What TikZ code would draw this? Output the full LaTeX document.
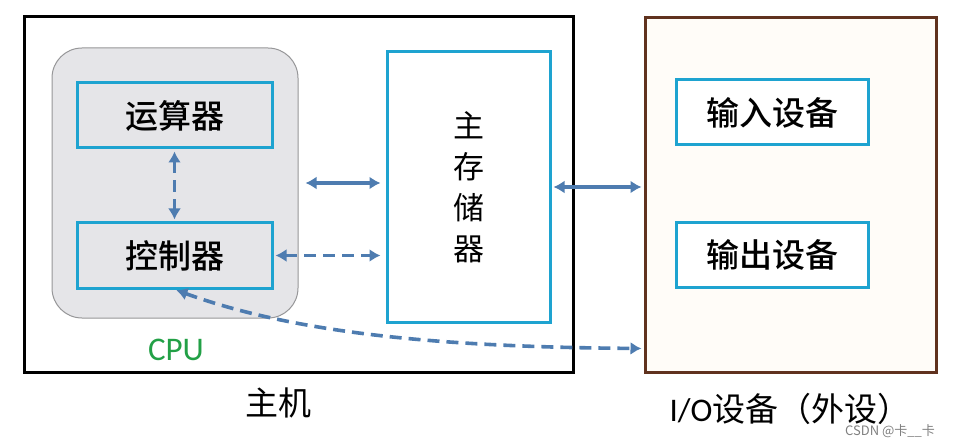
\documentclass[tikz,border=0pt]{standalone}
\usepackage{fontspec}
\setmainfont{Noto Sans CJK SC}
\newfontfamily\medfont{Noto Sans CJK SC Medium}
\newfontfamily\latinfont{Carlito}
\usetikzlibrary{arrows.meta}
\definecolor{boxcyan}{RGB}{30,163,208}
\definecolor{cpugray}{RGB}{229,229,232}
\definecolor{cpuedge}{RGB}{150,150,152}
\definecolor{iobrown}{RGB}{96,50,30}
\definecolor{iocream}{RGB}{255,252,248}
\definecolor{linkblue}{RGB}{78,124,176}
\definecolor{cpugreen}{RGB}{34,160,70}

\begin{document}
\begin{tikzpicture}
[x=1pt,y=-1pt]
\tikzset{unit/.style={draw=boxcyan,line width=3pt,fill=cpugray,inner sep=0pt,
    minimum width=195pt,minimum height=65pt,font=\medfont\fontsize{33}{36}\selectfont},
  link/.style={draw=linkblue,line width=3.6pt,>={Latex[length=11pt,width=13pt]},<->},
  dashlink/.style={link,dash pattern=on 12pt off 7pt}}
\useasboundingbox (0,0) rectangle (957,446);

\node [draw=black,line width=3pt,minimum width=549pt,minimum height=355pt] (host) at (298.5,194.5) {};
\node [draw=cpuedge,line width=1pt,fill=cpugray,rounded corners=30pt,
  minimum width=246pt,minimum height=270pt] (cpu) at (175,183) {};
\node [unit] (alu) at (174.5,115.5) {运算器};
\node [unit] (ctrl) at (174.5,255.5) {控制器};
\node [text=cpugreen,font=\latinfont\fontsize{33}{33}\selectfont] (cpulabel) at (176,350) {CPU};
\node [draw=boxcyan,line width=3pt,fill=white,minimum width=163pt,minimum height=270pt,
  align=center,font=\fontsize{31}{41}\selectfont] (mem) at (468.5,187) {主\\存\\储\\器};
\node [font=\fontsize{33}{36}\selectfont] (hostlabel) at (278,403) {主机};

\node [draw=iobrown,line width=3pt,fill=iocream,minimum width=291pt,minimum height=354pt] (io) at (790.5,195) {};
\node [unit,fill=white,minimum width=192pt] (input) at (772,112.5) {输入设备};
\node [unit,fill=white,minimum width=192pt] (output) at (772,255) {输出设备};
\node [font=\fontsize{33}{36}\selectfont] (iolabel) at (790,409) {{\latinfont I/O}设备（外设）};
\node [text=gray,font=\fontsize{13}{13}\selectfont] (mark) at (890,431) {CSDN @卡\_\_卡};

\coordinate (ioport) at ([yshift=25pt]io.south west);

\draw [dashlink,shorten <=2pt,shorten >=2pt] (alu) -- (ctrl);
\draw [link,shorten <=7pt,shorten >=5pt] (cpu.east) -- (cpu.east -| mem.west);
\draw [dashlink,shorten <=2pt,shorten >=5pt] (ctrl.east) -- (ctrl.east -| mem.west);
\draw [link,shorten <=2pt,shorten >=2pt] (mem.east) -- (mem.east -| io.west);
\draw [dashlink,shorten <=2pt,shorten >=2pt] (ctrl.south) .. controls (300,335) and (450,347) .. (ioport);

\end{tikzpicture}
\end{document}
